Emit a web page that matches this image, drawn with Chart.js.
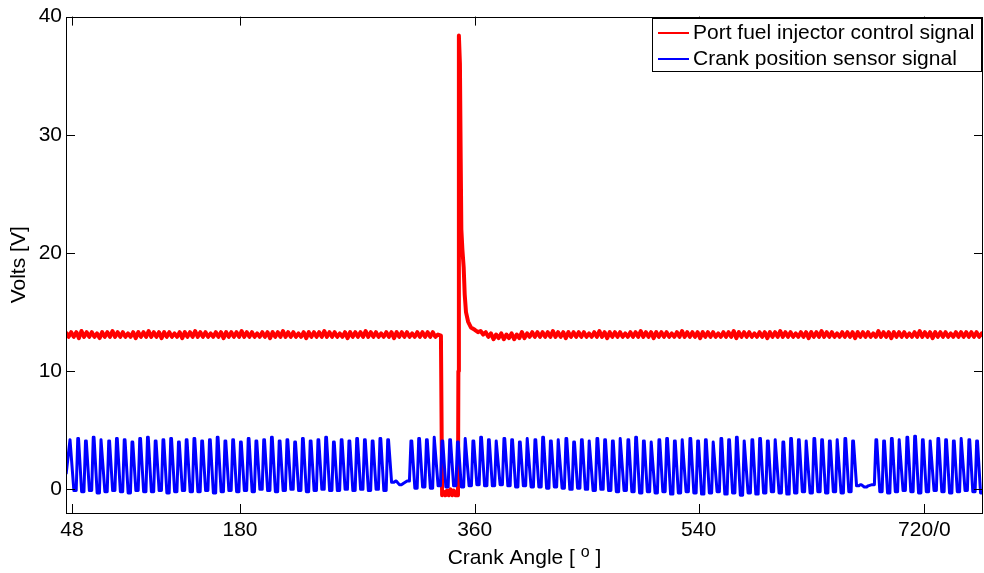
<!DOCTYPE html>
<html>
<head>
<meta charset="utf-8">
<script src="https://cdn.jsdelivr.net/npm/chart.js@4.4.1/dist/chart.umd.min.js"></script>
<style>
  html, body { margin: 0; padding: 0; background: #fff; }
</style>
</head>
<body>
<canvas id="crank" width="984" height="573"></canvas>
<script>
// x axis runs in crank degrees from the start of the trace
const tickAngles = [4.6, 134.7, 316.4, 489.8, 664.6];
const tickLabels = ['48', '180', '360', '540', '720/0'];
const voltTicks = [0, 10, 20, 30, 40];

// crank sensor: one peak and one trough per tooth slot (6 deg pitch), missing teeth read as flat
const blueHighs = [
  4.2, 4.3, 4.1, 4.4, 4.2, 4.1, 4.3, 4.2, 4.0, 4.3,
  4.4, 4.1, 4.2, 4.3, 4.0, 4.2, 4.3, 4.1, 4.2, 4.4,
  4.1, 4.2, 4.0, 4.3, 4.1, 4.2, 4.4, 4.1, 4.2, 4.0,
  4.3, 4.1, 4.2, 4.4, 4.0, 4.2, 4.1, 4.3, 4.2, 4.1,
  4.3, 4.2, 0.7, 0.5, 4.1, 4.3, 4.2, 4.4, 4.1, 4.2,
  4.0, 4.3, 4.1, 4.4, 4.2, 4.1, 4.3, 4.2, 4.0, 4.3,
  4.2, 4.4, 4.1, 4.2, 4.3, 4.0, 4.2, 4.1, 4.3, 4.2,
  4.1, 4.3, 4.2, 4.4, 4.1, 4.0, 4.2, 4.3, 4.1, 4.2,
  4.3, 4.1, 4.2, 4.0, 4.3, 4.2, 4.4, 4.1, 4.2, 4.3,
  4.1, 4.2, 4.0, 4.3, 4.2, 4.1, 4.3, 4.2, 4.1, 4.2,
  4.3, 4.1, 0.4, 0.3, 4.2, 4.1, 4.3, 4.2, 4.4, 4.5,
  4.2, 4.1, 4.3, 4.2, 4.1, 4.3, 4.2, 4.1
];
const blueLows = [
  1.3,
  -0.1, -0.2, -0.1, -0.3, -0.2, -0.1, -0.2, -0.3, -0.1, -0.2,
  -0.2, -0.1, -0.3, -0.2, -0.1, -0.2, -0.2, -0.1, -0.3, -0.2,
  -0.1, -0.2, -0.1, -0.2, 0.0, -0.1, -0.2, -0.1, 0.0, -0.1,
  -0.2, -0.1, 0.0, -0.1, -0.1, 0.0, -0.1, 0.0, -0.1, 0.0, -0.1,
  0.6, 0.4, 0.7,
  0.1, 0.2, 0.1, 0.3, 0.2, 0.3, 0.2, 0.3, 0.4, 0.3, 0.3, 0.4, 0.3, 0.2, 0.3, 0.2,
  0.2, 0.1, 0.2, 0.1, 0.0, 0.1, 0.0, -0.1, 0.0, -0.1,
  -0.2, -0.1, -0.2, -0.3, -0.2, -0.3, -0.2, -0.4, -0.3, -0.2,
  -0.3, -0.4, -0.3, -0.2, -0.4, -0.3, -0.5, -0.3, -0.4, -0.3, -0.2,
  -0.3, -0.4, -0.3, -0.2, -0.3, -0.2, -0.3, -0.2, -0.3, -0.2,
  0.3, 0.2, 0.4,
  -0.2, -0.3, -0.2, -0.1, -0.2, -0.3, -0.2, -0.1, -0.2, -0.3, -0.2, -0.1, -0.2, -0.3
];

// injector signal: battery level before the pulse (every 2 deg from 0)
const redBefore = [
  13.3, 12.9, 13.3, 12.9, 13.3, 12.8, 13.4, 12.9, 13.3, 12.9,
  13.3, 12.9, 13.2, 12.8, 13.3, 12.9, 13.3, 12.9, 13.4, 12.9,
  13.3, 12.9, 13.3, 12.9, 13.2, 12.9, 13.3, 12.8, 13.3, 12.9,
  13.3, 12.9, 13.4, 12.9, 13.3, 12.9, 13.3, 12.8, 13.3, 12.9,
  13.3, 12.9, 13.2, 12.9, 13.3, 12.8, 13.3, 12.9, 13.3, 12.9,
  13.4, 12.9, 13.3, 12.9, 13.3, 12.9, 13.2, 12.9, 13.3, 12.9,
  13.3, 12.8, 13.3, 12.9, 13.3, 12.9, 13.3, 12.9, 13.4, 12.9,
  13.3, 12.9, 13.3, 12.9, 13.2, 12.9, 13.3, 12.9, 13.3, 12.8,
  13.3, 12.9, 13.3, 12.9, 13.4, 12.9, 13.3, 12.9, 13.3, 12.9,
  13.2, 12.9, 13.3, 12.8, 13.3, 12.9, 13.3, 12.9, 13.3, 12.9,
  13.4, 12.9, 13.3, 12.9, 13.3, 12.9, 13.2, 12.9, 13.3, 12.8,
  13.3, 12.9, 13.3, 12.9, 13.3, 12.9, 13.4, 12.9, 13.3, 12.9,
  13.3, 12.9, 13.2, 12.9, 13.3, 12.9, 13.3, 12.8, 13.3, 12.9,
  13.3, 12.9, 13.3, 12.9, 13.2, 12.9, 13.3, 12.9, 13.3, 12.9,
  13.3, 12.9, 13.3, 12.9, 13.1
];
// injection pulse and flyback spike
const pulseAngles = [290.3, 291.2, 292.5, 293.8, 295.1, 296.4, 297.7, 299.0, 300.3, 301.6, 302.9, 303.5, 303.8, 304.2, 305.0, 305.6, 306.1, 306.9, 307.9, 308.7, 309.7, 311.3, 313.5, 316.5, 319.0];
const pulseVolts  = [13.0, -0.5, -0.2, -0.5, -0.1, -0.5, 0.0, -0.5, -0.1, -0.5, -0.2, -0.5, 10.0, 38.4, 36.0, 28.0, 22.0, 20.3, 18.8, 16.5, 15.0, 14.2, 13.7, 13.5, 13.3];
// back to battery level (every 2 deg from 321)
const redAfter = [
  13.4, 13.1, 13.3, 12.9, 13.2, 12.7, 13.1, 12.8, 13.2, 12.7, 13.1, 12.8, 13.2, 12.7, 13.1, 12.8, 13.3, 12.8, 13.2, 12.9,
  13.3, 12.9, 13.3, 12.9, 13.3, 12.9, 13.3, 12.9, 13.4, 12.9,
  13.3, 12.9, 13.3, 12.8, 13.3, 12.9, 13.3, 12.9, 13.3, 12.9,
  13.3, 12.9, 13.2, 12.9, 13.3, 12.9, 13.4, 12.9, 13.3, 12.8,
  13.3, 12.9, 13.3, 12.9, 13.3, 12.9, 13.2, 12.9, 13.3, 12.9,
  13.3, 12.9, 13.4, 12.9, 13.3, 12.9, 13.3, 12.8, 13.3, 12.9,
  13.3, 12.9, 13.3, 12.9, 13.2, 12.9, 13.3, 12.9, 13.4, 12.9,
  13.3, 12.9, 13.3, 12.9, 13.3, 12.8, 13.3, 12.9, 13.3, 12.9,
  13.3, 12.9, 13.2, 12.9, 13.3, 12.9, 13.3, 12.9, 13.4, 12.8,
  13.3, 12.9, 13.3, 12.9, 13.3, 12.9, 13.2, 12.9, 13.3, 12.9,
  13.3, 12.8, 13.3, 12.9, 13.3, 12.9, 13.4, 12.9, 13.3, 12.9,
  13.3, 12.9, 13.2, 12.9, 13.3, 12.9, 13.3, 12.8, 13.3, 12.9,
  13.3, 12.9, 13.4, 12.9, 13.3, 12.9, 13.3, 12.9, 13.2, 12.9,
  13.3, 12.9, 13.3, 12.9, 13.3, 12.8, 13.3, 12.9, 13.3, 12.9,
  13.3, 12.9, 13.2, 12.9, 13.4, 12.9, 13.3, 12.9, 13.3, 12.8,
  13.3, 12.9, 13.3, 12.9, 13.3, 12.9, 13.2, 12.9, 13.3, 12.9,
  13.4, 12.9, 13.3, 12.9, 13.3, 12.8, 13.3, 12.9, 13.3, 12.9,
  13.3, 12.9, 13.2, 12.9, 13.3, 12.9, 13.3, 12.9, 13.3, 12.9,
  13.3, 12.9, 13.3, 12.9, 13.2, 12.9
];

const FONT = '"Liberation Sans", Arial, Helvetica, sans-serif';

// each tooth slot: trough held, sharp rise to the peak, short top, slope back down
const blueData = [];
for (let k = 0; k < blueLows.length; k++) {
  const a = 6 * k;
  blueData.push({ x: a + 0.1, y: blueLows[k] });
  if (k > 0) blueData.push({ x: a + 1.9, y: blueLows[k] });
  if (k < blueHighs.length) {
    blueData.push({ x: a + 3.1, y: blueHighs[k] });
    blueData.push({ x: a + 3.7, y: blueHighs[k] });
  }
}

const redData = [];
redBefore.forEach((v, i) => redData.push({ x: 2 * i, y: v }));
pulseAngles.forEach((a, i) => redData.push({ x: a, y: pulseVolts[i] }));
redAfter.forEach((v, i) => redData.push({ x: 321 + 2 * i, y: v }));

// matlab style box, inward ticks, boxed legend and the x title with raised "o"
const axesFrame = {
  id: 'axesFrame',
  afterDraw(chart) {
    const ctx = chart.ctx;
    const a = chart.chartArea;
    const xs = chart.scales.x, ys = chart.scales.y;
    ctx.save();
    ctx.strokeStyle = '#000';
    ctx.lineWidth = 1;
    ctx.beginPath();
    tickAngles.forEach(v => {
      const px = Math.round(xs.getPixelForValue(v)) + 0.5;
      ctx.moveTo(px, a.bottom); ctx.lineTo(px, a.bottom - 9);
      ctx.moveTo(px, a.top); ctx.lineTo(px, a.top + 9);
    });
    voltTicks.forEach(v => {
      const py = Math.round(ys.getPixelForValue(v)) + 0.5;
      ctx.moveTo(a.left, py); ctx.lineTo(a.left + 9, py);
      ctx.moveTo(a.right, py); ctx.lineTo(a.right - 9, py);
    });
    ctx.stroke();
    ctx.strokeRect(Math.round(a.left) + 0.5, Math.round(a.top) + 0.5,
      Math.round(a.right - a.left) - 1, Math.round(a.bottom - a.top));

    // legend
    const lx = 652, ly = 18, lw = 330, lh = 54;
    ctx.fillStyle = '#fff';
    ctx.fillRect(lx, ly, lw, lh);
    ctx.strokeRect(lx + 0.5, ly + 0.5, lw - 1, lh - 1);
    ctx.font = '21px ' + FONT;
    ctx.textBaseline = 'middle';
    ctx.textAlign = 'left';
    chart.data.datasets.forEach((ds, i) => {
      const y = ly + 15 + i * 26;
      ctx.strokeStyle = ds.borderColor;
      ctx.lineWidth = 2;
      ctx.beginPath();
      ctx.moveTo(658, y); ctx.lineTo(689, y);
      ctx.stroke();
      ctx.fillStyle = '#000';
      ctx.fillText(ds.label, 693, y);
    });

    // x title
    const t1 = 'Crank Angle [ ', t2 = 'o', t3 = ' ]';
    ctx.font = '21px ' + FONT;
    const w1 = ctx.measureText(t1).width, w3 = ctx.measureText(t3).width;
    ctx.font = '16px ' + FONT;
    const w2 = ctx.measureText(t2).width;
    const cx = (a.left + a.right) / 2;
    const x0 = cx - (w1 + w2 + w3) / 2;
    const base = 564;
    ctx.textBaseline = 'alphabetic';
    ctx.fillStyle = '#000';
    ctx.font = '21px ' + FONT;
    ctx.fillText(t1, x0, base);
    ctx.font = '16px ' + FONT;
    ctx.fillText(t2, x0 + w1, base - 7);
    ctx.font = '21px ' + FONT;
    ctx.fillText(t3, x0 + w1 + w2, base);
    ctx.restore();
  }
};

new Chart(document.getElementById('crank'), {
  type: 'line',
  data: {
    datasets: [
      {
        label: 'Port fuel injector control signal',
        data: redData,
        borderColor: '#ff0000',
        borderWidth: 4,
        borderJoinStyle: 'round',
        pointRadius: 0,
        order: 1
      },
      {
        label: 'Crank position sensor signal',
        data: blueData,
        borderColor: '#0000ff',
        borderWidth: 3,
        borderJoinStyle: 'round',
        pointRadius: 0,
        order: 0
      }
    ]
  },
  options: {
    responsive: false,
    animation: false,
    layout: { padding: { left: 0, right: 1, top: 13, bottom: 0 } },
    scales: {
      x: {
        type: 'linear',
        min: 0,
        max: 710,
        grid: { display: false, drawTicks: false },
        border: { display: false },
        afterBuildTicks: s => { s.ticks = tickAngles.map(v => ({ value: v })); },
        afterFit: s => { s.height = 60; },
        ticks: {
          autoSkip: false,
          maxRotation: 0,
          padding: 5,
          color: '#000',
          font: { family: FONT, size: 21 },
          callback: (v, i) => tickLabels[i]
        }
      },
      y: {
        min: -2,
        max: 40,
        grid: { display: false, drawTicks: false },
        border: { display: false },
        afterBuildTicks: s => { s.ticks = voltTicks.map(v => ({ value: v })); },
        afterFit: s => { s.width = 66; },
        ticks: {
          padding: 4,
          color: '#000',
          font: { family: FONT, size: 21 }
        },
        title: {
          display: true,
          text: 'Volts [V]',
          color: '#000',
          font: { family: FONT, size: 21 },
          padding: { top: 7, bottom: 0 }
        }
      }
    },
    plugins: {
      legend: { display: false },
      tooltip: { enabled: false }
    }
  },
  plugins: [axesFrame]
});
</script>
</body>
</html>
